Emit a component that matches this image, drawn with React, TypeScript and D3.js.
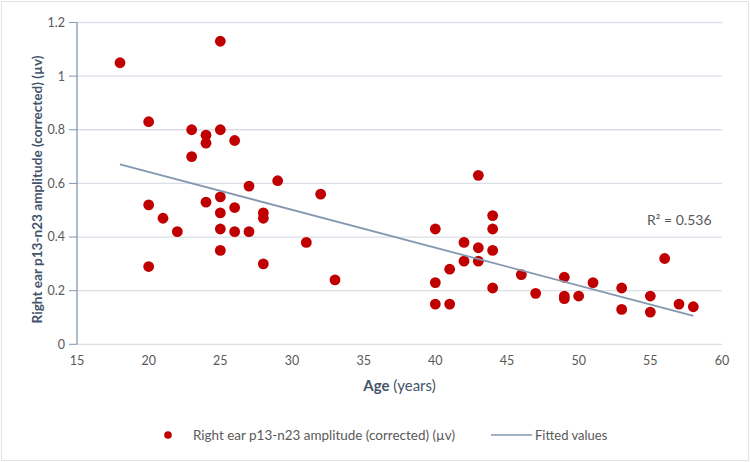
import { useEffect } from 'react';
import * as d3 from 'd3';

// Age (years) and corrected right ear p13-n23 amplitude (µv)
const ages = [
  18, 20, 20, 20, 21, 22, 23, 23, 24, 24, 24, 25, 25, 25, 25, 25, 25, 26, 26, 26,
  27, 27, 28, 28, 28, 29, 31, 32, 33, 40, 40, 40, 41, 41, 42, 42, 43, 43, 43, 44,
  44, 44, 44, 46, 47, 49, 49, 49, 50, 51, 53, 53, 55, 55, 56, 57, 58,
];
const amplitudes = [
  1.05, 0.83, 0.52, 0.29, 0.47, 0.42, 0.8, 0.7, 0.78, 0.75, 0.53, 1.13, 0.8, 0.55, 0.49, 0.43, 0.35, 0.76, 0.51, 0.42,
  0.59, 0.42, 0.49, 0.47, 0.3, 0.61, 0.38, 0.56, 0.24, 0.43, 0.23, 0.15, 0.28, 0.15, 0.38, 0.31, 0.63, 0.36, 0.31, 0.48,
  0.43, 0.35, 0.21, 0.26, 0.19, 0.25, 0.18, 0.17, 0.18, 0.23, 0.21, 0.13, 0.18, 0.12, 0.32, 0.15, 0.14,
];

// Linear fit end points
const fitAges = [18, 58];
const fitValues = [0.671, 0.106];
const rSquared = '0.536';

const xTicks = [15, 20, 25, 30, 35, 40, 45, 50, 55, 60];
const yTicks = [0, 0.2, 0.4, 0.6, 0.8, 1, 1.2];

const seriesLabel = 'Right ear p13-n23 amplitude (corrected) (µv)';
const fitLabel = 'Fitted values';

const FONT = "Lato, 'Open Sans', sans-serif";
const RED = '#C00000';
const LINE = '#8497B0';
const GRID = '#D9DEE7';
const TICK_TEXT = '#595959';
const TITLE = '#44546A';

export default function App() {
  useEffect(() => {
    document.body.style.margin = '0';
  }, []);

  const width = 750;
  const height = 462;
  const left = 77;
  const right = 722;
  const top = 22.5;
  const bottom = 344.3;

  const x = d3.scaleLinear().domain([15, 60]).range([left, right]);
  const y = d3.scaleLinear().domain([0, 1.2]).range([bottom, top]);

  const fitLine = d3
    .line<number>()
    .x((d) => x(d))
    .y((_, i) => y(fitValues[i]));

  return (
    <svg width={width} height={height} style={{ display: 'block', background: '#fff' }} fontFamily={FONT}>
      <rect x={1.5} y={1.5} width={width - 3} height={height - 3} fill="#fff" stroke="#E3E3E3" />

      {/* gridlines */}
      {yTicks.map((t) => (
        <line key={`g${t}`} x1={left} x2={right} y1={y(t)} y2={y(t)} stroke={GRID} strokeWidth={1.3} />
      ))}

      {/* y axis with outward ticks */}
      <line x1={left} x2={left} y1={top} y2={bottom} stroke={LINE} strokeWidth={1.3} />
      {yTicks.map((t) => (
        <line key={`t${t}`} x1={left - 8} x2={left} y1={y(t)} y2={y(t)} stroke={LINE} strokeWidth={1} />
      ))}
      {yTicks.map((t) => (
        <text key={`yl${t}`} x={left - 12} y={y(t)} dy="0.35em" textAnchor="end" fontSize={12.5} fill={TICK_TEXT}>
          {d3.format('~g')(t)}
        </text>
      ))}

      {xTicks.map((t) => (
        <text key={`xl${t}`} x={x(t)} y={361} dy="0.35em" textAnchor="middle" fontSize={12.5} fill={TICK_TEXT}>
          {t}
        </text>
      ))}

      {/* axis titles */}
      <text x={(left + right) / 2} y={386} dy="0.35em" textAnchor="middle" fontSize={15} fill={TITLE}>
        <tspan fontWeight="bold">Age</tspan>
        <tspan> (years)</tspan>
      </text>
      <text
        transform={`translate(37,${(top + bottom) / 2 + 6}) rotate(-90)`}
        dy="0.35em"
        textAnchor="middle"
        fontSize={13}
        fontWeight="bold"
        fill={TITLE}
        textLength={268}
        lengthAdjust="spacingAndGlyphs"
      >
        {seriesLabel}
      </text>

      {/* points */}
      {ages.map((a, i) => (
        <circle key={`p${i}`} cx={x(a)} cy={y(amplitudes[i])} r={5.4} fill={RED} />
      ))}

      {/* fitted line */}
      <path d={fitLine(fitAges) ?? ''} fill="none" stroke={LINE} strokeWidth={1.8} />

      <text x={647} y={220} dy="0.35em" fontSize={14} fill={TICK_TEXT}>
        R² = {rSquared}
      </text>

      {/* legend */}
      <circle cx={168} cy={435} r={3.8} fill={RED} />
      <text x={193} y={435} dy="0.35em" fontSize={13} fill={TICK_TEXT} textLength={262} lengthAdjust="spacingAndGlyphs">
        {seriesLabel}
      </text>
      <line x1={491} x2={532} y1={435} y2={435} stroke={LINE} strokeWidth={1.5} />
      <text x={535} y={435} dy="0.35em" fontSize={13} fill={TICK_TEXT}>
        {fitLabel}
      </text>
    </svg>
  );
}
